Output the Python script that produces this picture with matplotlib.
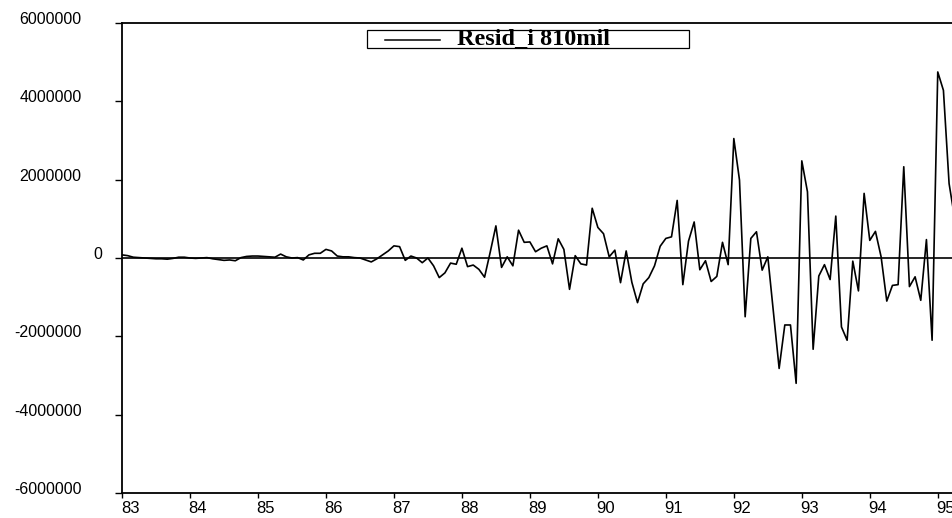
import numpy as np
import matplotlib
matplotlib.use("Agg")
import matplotlib.pyplot as plt
from matplotlib.transforms import ScaledTranslation
from matplotlib.lines import Line2D
from matplotlib.patches import Rectangle

# Monthly residuals, January 1983 onward (in millions)
start_year = 1983
resid_millions = [
    # 1983
    0.08, 0.06, 0.02, 0.01, 0.00, -0.01, -0.02, -0.02, -0.03, -0.01, 0.02, 0.02,
    # 1984
    0.00, -0.01, 0.00, 0.01, -0.02, -0.04, -0.06, -0.05, -0.07, 0.01, 0.04, 0.05,
    # 1985
    0.05, 0.04, 0.03, 0.02, 0.10, 0.03, 0.00, 0.01, -0.05, 0.08, 0.12, 0.12,
    # 1986
    0.22, 0.18, 0.05, 0.03, 0.03, 0.01, 0.00, -0.05, -0.10, -0.02, 0.08, 0.18,
    # 1987
    0.31, 0.29, -0.06, 0.05, 0.00, -0.12, 0.00, -0.20, -0.50, -0.38, -0.13, -0.16,
    # 1988
    0.25, -0.22, -0.18, -0.29, -0.49, 0.15, 0.82, -0.24, 0.03, -0.20, 0.71, 0.40,
    # 1989
    0.41, 0.16, 0.25, 0.31, -0.15, 0.49, 0.22, -0.80, 0.06, -0.15, -0.18, 1.27,
    # 1990
    0.78, 0.62, 0.03, 0.20, -0.63, 0.18, -0.62, -1.14, -0.66, -0.50, -0.20, 0.30,
    # 1991
    0.50, 0.54, 1.47, -0.68, 0.43, 0.92, -0.30, -0.07, -0.60, -0.47, 0.40, -0.17,
    # 1992
    3.05, 1.99, -1.50, 0.50, 0.67, -0.31, 0.03, -1.40, -2.82, -1.71, -1.71, -3.20,
    # 1993
    2.48, 1.69, -2.33, -0.46, -0.17, -0.55, 1.07, -1.76, -2.10, -0.08, -0.84, 1.65,
    # 1994
    0.45, 0.68, 0.03, -1.10, -0.70, -0.68, 2.33, -0.73, -0.48, -1.08, 0.47, -2.10,
    # 1995
    4.75, 4.28, 1.90, 1.00,
]
series_name = "Resid_i 810mil"

year_ticks = list(range(1983, 1996))
year_labels = ["83", "84", "85", "86", "87", "88", "89", "90", "91", "92", "93", "94", "95"]
y_ticks = [6000000, 4000000, 2000000, 0, -2000000, -4000000, -6000000]
y_labels = ["6000000", "4000000", "2000000", "0", "-2000000", "-4000000", "-6000000"]

resid = np.array(resid_millions) * 1e6
dates = start_year + np.arange(len(resid)) / 12.0

W, H, DPI = 952, 518, 100
fig = plt.figure(figsize=(W / DPI, H / DPI), dpi=DPI)
fig.patch.set_facecolor("white")

# axes in pixel terms: left spine at x=122, 1 year = 68 px, top 23, bottom 493
left_px, year_px, top_px, bot_px = 122, 67.98, 23, 493
x_end = 1996
ax = fig.add_axes([left_px / W, (H - bot_px) / H,
                   (x_end - 1983) * year_px / W, (bot_px - top_px) / H])

ax.plot(dates, resid, color="black", lw=1.2, solid_joinstyle="round")
ax.axhline(0, color="black", lw=1.2)

ax.set_xlim(1983, x_end)
ax.set_ylim(-6000000, 6000000)

for s in ["left", "bottom", "top"]:
    ax.spines[s].set_linewidth(1.3)
    ax.spines[s].set_color("black")
ax.spines["right"].set_visible(False)

ax.set_xticks(year_ticks)
ax.set_xticklabels(year_labels, fontsize=12, family="Liberation Sans")
ax.set_yticks(y_ticks)
ax.set_yticklabels(y_labels, fontsize=11.5, family="Liberation Sans")
ax.tick_params(axis="x", direction="out", length=3.6, width=1, pad=2)
ax.tick_params(axis="y", direction="out", length=5, width=1, pad=24)

px = 1.0 / DPI
for lab in ax.get_xticklabels():
    lab.set_transform(lab.get_transform() + ScaledTranslation(8 * px, 0, fig.dpi_scale_trans))
for lab in ax.get_yticklabels():
    dx = 21 * px if lab.get_text() == "0" else 0
    lab.set_transform(lab.get_transform() + ScaledTranslation(dx, 5 * px, fig.dpi_scale_trans))

# legend box drawn in figure pixels
def fx(x):
    return x / W

def fy(y):
    return (H - y) / H

fig.patches.append(Rectangle((fx(367), fy(48)), fx(689) - fx(367), fy(30) - fy(48),
                             transform=fig.transFigure, fill=True, facecolor="white",
                             edgecolor="black", lw=0.9, zorder=5))
fig.lines.append(Line2D([fx(385), fx(440)], [fy(40), fy(40)], transform=fig.transFigure,
                        color="black", lw=1.1, zorder=6))
fig.text(fx(457), fy(39), series_name, family="Liberation Serif", weight="bold",
         fontsize=17.5, va="center", ha="left", zorder=6)

fig.savefig("out.png", dpi=DPI)
